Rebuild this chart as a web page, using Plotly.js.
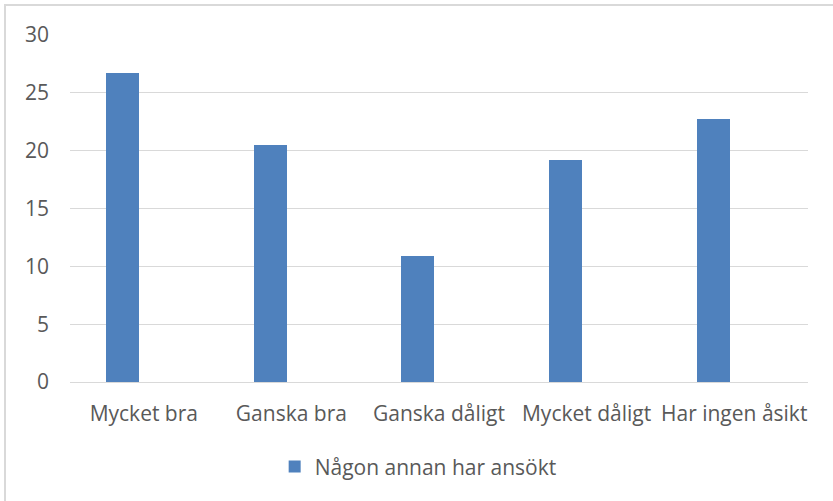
<!DOCTYPE html>
<html>
<head>
<meta charset="utf-8">
<script src="https://cdn.plot.ly/plotly-3.0.1.min.js"></script>
<style>
  html, body { margin: 0; padding: 0; background: #ffffff; }
  #frame { position: absolute; left: 4px; top: 4px; width: 860px; height: 520px; border: 2px solid #d9d9d9; box-sizing: border-box; }
  #chart { position: absolute; left: 0; top: 0; width: 833px; height: 501px; }
</style>
</head>
<body>
<div id="frame"></div>
<div id="chart"></div>
<script>
const categories = ["Mycket bra", "Ganska bra", "Ganska dåligt", "Mycket dåligt", "Har ingen åsikt"];
const seriesName = "Någon annan har ansökt";
const values = [26.7, 20.5, 10.9, 19.2, 22.7];
const yTicks = [0, 5, 10, 15, 20, 25, 30];

const textColor = "#595959";
const fontFamily = "'Open Sans', 'Noto Sans', sans-serif";

const trace = {
  type: "bar",
  x: categories,
  y: values,
  name: seriesName,
  width: 0.2234,
  offset: -0.255,
  marker: { color: "#4f81bd", line: { width: 0 } },
  showlegend: true
};

const layout = {
  width: 833,
  height: 501,
  margin: { l: 70, r: 25, t: 35, b: 119 },
  paper_bgcolor: "rgba(0,0,0,0)",
  plot_bgcolor: "rgba(0,0,0,0)",
  font: { family: fontFamily, size: 21, color: textColor },
  xaxis: {
    type: "category",
    showgrid: false,
    showline: true,
    linecolor: "#d9d9d9",
    linewidth: 1,
    ticks: "",
    ticklabelstandoff: 13,
    tickfont: { family: fontFamily, size: 21, color: textColor },
    fixedrange: true
  },
  yaxis: {
    range: [0, 30],
    tickvals: yTicks,
    ticktext: yTicks.map(String),
    showgrid: true,
    gridcolor: "#d9d9d9",
    gridwidth: 1,
    zeroline: false,
    showline: false,
    ticks: "",
    ticklabelstandoff: 20,
    tickfont: { family: fontFamily, size: 21, color: textColor },
    fixedrange: true
  },
  showlegend: true,
  legend: {
    orientation: "h",
    xref: "container",
    yref: "container",
    x: 0.502,
    xanchor: "center",
    y: 0.068,
    yanchor: "middle",
    font: { family: fontFamily, size: 21, color: textColor },
    bgcolor: "rgba(0,0,0,0)"
  },
  bargap: 0
};

Plotly.newPlot("chart", [trace], layout, { displayModeBar: false, staticPlot: true });
</script>
</body>
</html>
